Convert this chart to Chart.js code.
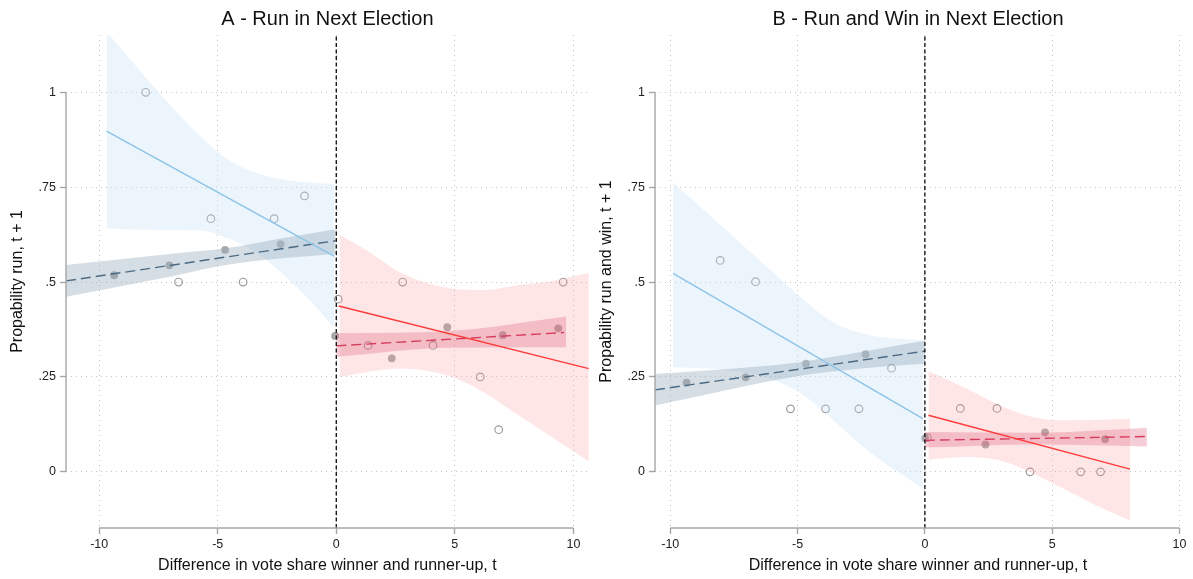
<!DOCTYPE html>
<html>
<head>
<meta charset="utf-8">
<script src="https://cdn.jsdelivr.net/npm/chart.js@4.4.1/dist/chart.umd.min.js"></script>
<style>
  body { margin: 0; background: #fff; }
  canvas { position: absolute; top: 0; }
  #panel-a { left: 0; }
  #panel-b { left: 589px; }
</style>
</head>
<body>
<canvas id="panel-a" width="594" height="579"></canvas>
<canvas id="panel-b" width="604" height="579"></canvas>
<script>
// ---- axes ----
const X_TICKS = [-10, -5, 0, 5, 10];
const X_TICK_LABELS = ['-10', '-5', '0', '5', '10'];
const Y_TICKS = [0, 0.25, 0.5, 0.75, 1];
const Y_TICK_LABELS = ['0', '.25', '.5', '.75', '1'];
const Y_MIN = -0.148, Y_MAX = 1.151;
const CUTOFF = 0;
const X_TITLE = 'Difference in vote share winner and runner-up, t';

// ---- Panel A: Run in Next Election ----
const A_OPEN_X = [-8.04, -6.65, -5.29, -3.93, -2.62, -1.34, 0.08, 1.34, 2.80, 4.08, 6.07, 6.85, 9.57];
const A_OPEN_Y = [1.0, 0.5, 0.667, 0.5, 0.667, 0.727, 0.455, 0.333, 0.5, 0.333, 0.25, 0.111, 0.5];
const A_MEAN_X = [-9.37, -7.04, -4.69, -2.35, -0.05, 2.34, 4.68, 7.02, 9.36];
const A_MEAN_Y = [0.518, 0.544, 0.585, 0.600, 0.358, 0.299, 0.381, 0.360, 0.378];

const A_BLUE_X = [-9.69, -0.08];
const A_BLUE_Y = [0.898, 0.568];
const A_BLUE_CI_X = [-9.69, -7.45, -5.77, -4.65, -3.53, -2.13, -1.0, -0.08];
const A_BLUE_CI_HI = [1.16, 0.997, 0.886, 0.826, 0.791, 0.769, 0.762, 0.758];
const A_BLUE_CI_LO = [0.641, 0.637, 0.636, 0.617, 0.584, 0.514, 0.444, 0.378];

const A_GRAY_X = [-11.4, -0.03];
const A_GRAY_Y = [0.503, 0.609];
const A_GRAY_CI_X = [-11.4, -9.41, -7.03, -4.65, -2.41, -0.03];
const A_GRAY_CI_HI = [0.545, 0.558, 0.574, 0.589, 0.614, 0.639];
const A_GRAY_CI_LO = [0.461, 0.485, 0.514, 0.545, 0.562, 0.574];

const A_RED_X = [0.1, 10.65];
const A_RED_Y = [0.437, 0.272];
const A_RED_CI_X = [0.14, 1.37, 2.77, 4.87, 6.28, 7.68, 9.08, 10.69];
const A_RED_CI_HI = [0.624, 0.58, 0.523, 0.483, 0.479, 0.492, 0.503, 0.525];
const A_RED_CI_LO = [0.25, 0.264, 0.272, 0.25, 0.207, 0.149, 0.092, 0.026];

const A_PINK_X = [0, 9.61];
const A_PINK_Y = [0.332, 0.367];
const A_PINK_CI_X = [0, 4.8, 9.7];
const A_PINK_CI_HI = [0.365, 0.371, 0.409];
const A_PINK_CI_LO = [0.303, 0.327, 0.328];

// ---- Panel B: Run and Win in Next Election ----
const B_OPEN_X = [-8.04, -6.65, -5.28, -3.90, -2.59, -1.31, 0.10, 1.39, 2.83, 4.13, 6.12, 6.90];
const B_OPEN_Y = [0.557, 0.501, 0.166, 0.166, 0.166, 0.273, 0.09, 0.167, 0.167, 0, 0, 0];
const B_MEAN_X = [-9.36, -7.04, -4.67, -2.33, 0.01, 2.38, 4.72, 7.08];
const B_MEAN_Y = [0.235, 0.249, 0.285, 0.31, 0.089, 0.072, 0.104, 0.086];

const B_BLUE_X = [-9.89, -0.08];
const B_BLUE_Y = [0.523, 0.14];
const B_BLUE_CI_X = [-9.89, -7.65, -6.34, -5.03, -3.72, -2.41, -0.08];
const B_BLUE_CI_HI = [0.763, 0.627, 0.548, 0.469, 0.399, 0.364, 0.346];
const B_BLUE_CI_LO = [0.276, 0.267, 0.25, 0.214, 0.144, 0.065, -0.044];

const B_GRAY_X = [-10.6, 0.01];
const B_GRAY_Y = [0.216, 0.318];
const B_GRAY_CI_X = [-10.6, -8.3, -5.03, -2.41, 0.01];
const B_GRAY_CI_HI = [0.258, 0.268, 0.288, 0.317, 0.346];
const B_GRAY_CI_LO = [0.175, 0.208, 0.252, 0.273, 0.285];

const B_RED_X = [0.14, 8.06];
const B_RED_Y = [0.149, 0.007];
const B_RED_CI_X = [0.14, 1.65, 2.96, 4.27, 5.58, 6.88, 8.06];
const B_RED_CI_HI = [0.265, 0.219, 0.175, 0.144, 0.136, 0.137, 0.14];
const B_RED_CI_LO = [0.032, 0.039, 0.03, -0.005, -0.049, -0.093, -0.128];

const B_PINK_X = [0, 8.72];
const B_PINK_Y = [0.083, 0.093];
const B_PINK_CI_X = [0, 4.4, 8.72];
const B_PINK_CI_HI = [0.105, 0.103, 0.116];
const B_PINK_CI_LO = [0.064, 0.072, 0.067];

// ---- styling ----
const FONT = "'Liberation Sans', Arial, Helvetica, sans-serif";
const NONE = 'rgba(0,0,0,0)';

function pts(xs, ys) {
  return xs.map((x, i) => ({ x: x, y: ys[i] }));
}

function band(xs, hi, lo, color, order) {
  const common = { pointRadius: 0, borderColor: NONE, borderWidth: 1, cubicInterpolationMode: 'monotone', order: order };
  return [
    Object.assign({ data: pts(xs, hi), fill: '+1', backgroundColor: color }, common),
    Object.assign({ data: pts(xs, lo), fill: false }, common),
  ];
}

function fitLine(xs, ys, color, dash) {
  return { data: pts(xs, ys), borderColor: color, borderWidth: 1.4, borderDash: dash, pointRadius: 0, fill: false, order: 1 };
}

// Stata-style axis lines (only over the labelled range) + panel title
const stataAxes = {
  id: 'stataAxes',
  afterDraw(chart, args, opts) {
    const { ctx, chartArea } = chart;
    const xs = chart.scales.x, ys = chart.scales.y;
    ctx.save();
    ctx.strokeStyle = '#a6a6a6';
    ctx.lineWidth = 1.4;
    ctx.beginPath();
    ctx.moveTo(chartArea.left, ys.getPixelForValue(Y_TICKS[0]));
    ctx.lineTo(chartArea.left, ys.getPixelForValue(Y_TICKS[Y_TICKS.length - 1]));
    ctx.moveTo(xs.getPixelForValue(X_TICKS[0]), chartArea.bottom);
    ctx.lineTo(xs.getPixelForValue(X_TICKS[X_TICKS.length - 1]), chartArea.bottom);
    ctx.stroke();
    ctx.fillStyle = '#111';
    ctx.font = '20px ' + FONT;
    ctx.textAlign = 'center';
    ctx.textBaseline = 'middle';
    ctx.fillText(opts.title, (chartArea.left + chartArea.right) / 2, 19);
    ctx.restore();
  }
};

function makePanel(id, p) {
  const datasets = [
    { data: [{ x: CUTOFF, y: Y_MIN }, { x: CUTOFF, y: Y_MAX }], borderColor: '#1a1a1a', borderWidth: 1.4, borderDash: [4, 2.5], pointRadius: 0, fill: false, order: 0 },
    fitLine(p.blueX, p.blueY, '#8cc3e8', []),
    fitLine(p.redX, p.redY, '#ff3b3b', []),
    fitLine(p.grayX, p.grayY, '#4b6a84', [10, 5]),
    fitLine(p.pinkX, p.pinkY, '#d63c5e', [10, 5]),
    ...band(p.grayCiX, p.grayHi, p.grayLo, 'rgba(150,172,188,0.4)', 3),
    ...band(p.pinkCiX, p.pinkHi, p.pinkLo, 'rgba(222,90,120,0.3)', 3),
    ...band(p.blueCiX, p.blueHi, p.blueLo, 'rgba(195,222,245,0.32)', 4),
    ...band(p.redCiX, p.redHi, p.redLo, 'rgba(250,150,155,0.24)', 4),
    { data: pts(p.meanX, p.meanY), showLine: false, pointRadius: 3.9, pointBorderWidth: 0, pointBackgroundColor: '#a8a8a8', order: 9 },
    { data: pts(p.openX, p.openY), showLine: false, pointRadius: 3.8, pointBorderWidth: 1.2, pointBorderColor: '#9c9c9c', pointBackgroundColor: NONE, order: 9 },
  ];

  const canvas = document.getElementById(id);
  return new Chart(canvas.getContext('2d'), {
    type: 'line',
    data: { datasets },
    plugins: [stataAxes],
    options: {
      responsive: false,
      animation: false,
      devicePixelRatio: 1,
      layout: { padding: { left: 0, right: p.padRight, top: 35, bottom: 0 } },
      plugins: {
        legend: { display: false },
        tooltip: { enabled: false },
        stataAxes: { title: p.title },
      },
      scales: {
        x: {
          type: 'linear',
          min: p.xMin,
          max: p.xMax,
          afterBuildTicks: s => { s.ticks = X_TICKS.map(v => ({ value: v })); },
          afterFit: s => { s.height = 51; },
          ticks: {
            autoSkip: false, maxRotation: 0, padding: 3, color: '#222',
            font: { family: FONT, size: 12.5 },
            callback: (v, i) => X_TICK_LABELS[i],
          },
          grid: { color: '#c4c4c4', lineWidth: 1, tickLength: 6, tickColor: '#a6a6a6', tickWidth: 1.4 },
          border: { display: false, dash: [1, 4] },
          title: { display: true, text: X_TITLE, color: '#111', font: { family: FONT, size: 16 }, padding: { top: 0, bottom: 4 } },
        },
        y: {
          min: Y_MIN,
          max: Y_MAX,
          afterBuildTicks: s => { s.ticks = Y_TICKS.map(v => ({ value: v })); },
          afterFit: s => { s.width = 66; },
          ticks: {
            padding: 4, color: '#222',
            font: { family: FONT, size: 12.5 },
            callback: (v, i) => Y_TICK_LABELS[i],
          },
          grid: { color: '#c4c4c4', lineWidth: 1, tickLength: 6, tickColor: '#a6a6a6', tickWidth: 1.4 },
          border: { display: false, dash: [1, 4] },
          title: { display: true, text: p.yTitle, color: '#111', font: { family: FONT, size: 16 }, padding: { top: 8, bottom: 0 } },
        },
      },
    },
  });
}

makePanel('panel-a', {
  title: 'A - Run in Next Election', yTitle: 'Propability run, t + 1',
  xMin: -11.4, xMax: 10.65, padRight: 3,
  openX: A_OPEN_X, openY: A_OPEN_Y, meanX: A_MEAN_X, meanY: A_MEAN_Y,
  blueX: A_BLUE_X, blueY: A_BLUE_Y, blueCiX: A_BLUE_CI_X, blueHi: A_BLUE_CI_HI, blueLo: A_BLUE_CI_LO,
  grayX: A_GRAY_X, grayY: A_GRAY_Y, grayCiX: A_GRAY_CI_X, grayHi: A_GRAY_CI_HI, grayLo: A_GRAY_CI_LO,
  redX: A_RED_X, redY: A_RED_Y, redCiX: A_RED_CI_X, redHi: A_RED_CI_HI, redLo: A_RED_CI_LO,
  pinkX: A_PINK_X, pinkY: A_PINK_Y, pinkCiX: A_PINK_CI_X, pinkHi: A_PINK_CI_HI, pinkLo: A_PINK_CI_LO,
});

makePanel('panel-b', {
  title: 'B - Run and Win in Next Election', yTitle: 'Propability run and win, t + 1',
  xMin: -10.6, xMax: 10.06, padRight: 12,
  openX: B_OPEN_X, openY: B_OPEN_Y, meanX: B_MEAN_X, meanY: B_MEAN_Y,
  blueX: B_BLUE_X, blueY: B_BLUE_Y, blueCiX: B_BLUE_CI_X, blueHi: B_BLUE_CI_HI, blueLo: B_BLUE_CI_LO,
  grayX: B_GRAY_X, grayY: B_GRAY_Y, grayCiX: B_GRAY_CI_X, grayHi: B_GRAY_CI_HI, grayLo: B_GRAY_CI_LO,
  redX: B_RED_X, redY: B_RED_Y, redCiX: B_RED_CI_X, redHi: B_RED_CI_HI, redLo: B_RED_CI_LO,
  pinkX: B_PINK_X, pinkY: B_PINK_Y, pinkCiX: B_PINK_CI_X, pinkHi: B_PINK_CI_HI, pinkLo: B_PINK_CI_LO,
});
</script>
</body>
</html>
